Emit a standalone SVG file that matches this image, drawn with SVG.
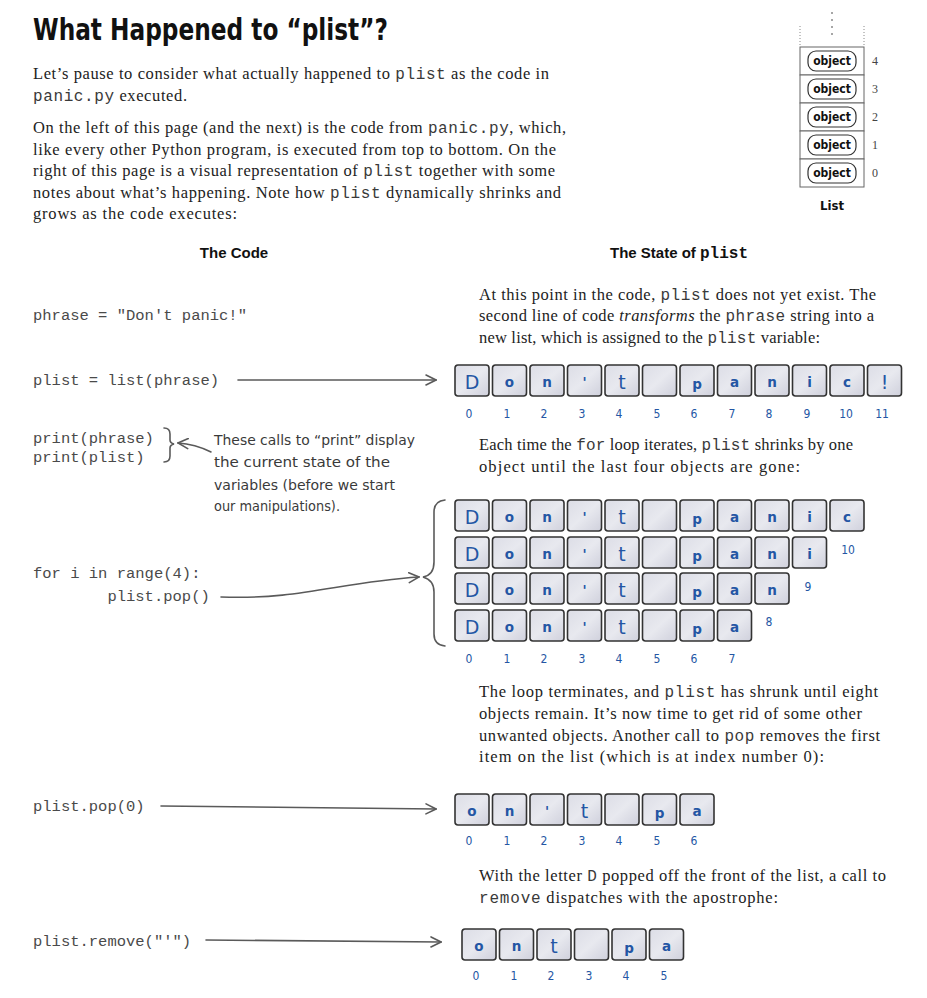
<svg xmlns="http://www.w3.org/2000/svg" xmlns:xlink="http://www.w3.org/1999/xlink" width="927" height="998" viewBox="0 0 927 998">
<style>
  .title{font-family:"DejaVu Sans Condensed","Liberation Sans Narrow",sans-serif;font-weight:bold;font-size:31px;fill:#111}
  .para{font-family:"Liberation Serif",serif;font-size:16.5px;fill:#222}
  .pm{font-family:"Liberation Mono",monospace;font-size:16px;fill:#3a3a3a}
  .code{font-family:"Liberation Mono",monospace;font-size:15.5px;fill:#4a4a4a}
  .head{font-family:"Liberation Sans",sans-serif;font-weight:bold;font-size:15px;fill:#111}
  .headm{font-family:"Liberation Mono",monospace;font-weight:bold;font-size:16px}
  .note{font-family:"DejaVu Sans Condensed","Liberation Sans Narrow",sans-serif;font-size:14.5px;fill:#3a3a3a}
  .let{font-family:"DejaVu Sans","Liberation Sans",sans-serif;font-weight:bold;font-size:13.5px;fill:#2456a4;text-anchor:middle}
  .cap{font-size:19px;font-weight:normal}
  .idx{font-family:"DejaVu Sans Condensed",sans-serif;font-size:12px;fill:#2456a4;text-anchor:middle}
  .cellr{fill:url(#cg);stroke:#333;stroke-width:1.6}
  .arrow{fill:none;stroke:#5a5a5a;stroke-width:1.6;stroke-linecap:round}
  .pill{fill:#fff;stroke:#333;stroke-width:1.2}
  .obj{font-family:"DejaVu Sans Condensed",sans-serif;font-weight:bold;font-size:12px;fill:#111;text-anchor:middle}
  .num{font-family:"Liberation Serif",serif;font-size:12px;fill:#444}
  .box{fill:#fff;stroke:#666;stroke-width:1}
  .dot{stroke:#888;stroke-width:1;stroke-dasharray:1 2;fill:none}
</style>
<defs>
  <linearGradient id="cg" x1="0" y1="0" x2="1" y2="1">
    <stop offset="0" stop-color="#dcdde6"/>
    <stop offset="0.5" stop-color="#e8e9ef"/>
    <stop offset="1" stop-color="#cfd0dc"/>
  </linearGradient>
  <rect id="cell" x="0" y="0" width="34" height="31" rx="3"/>
  <marker id="ah" viewBox="0 0 12 12" refX="11" refY="6" markerWidth="12" markerHeight="12" markerUnits="userSpaceOnUse" orient="auto">
    <path d="M1,1 L11,6 L1,11" fill="none" stroke="#5a5a5a" stroke-width="1.6" stroke-linecap="round"/>
  </marker>
</defs>
<rect width="927" height="998" fill="#fff"/>

<g id="title"><text class="title" x="33" y="40" textLength="355" lengthAdjust="spacingAndGlyphs">What Happened to “plist”?</text></g>

<g id="intro">
  <text class="para" x="33" y="79" textLength="516">Let’s pause to consider what actually happened to <tspan class="pm">plist</tspan> as the code in</text>
  <text class="para" x="33" y="101" textLength="154"><tspan class="pm">panic.py</tspan> executed.</text>
  <text class="para" x="33" y="133" textLength="533">On the left of this page (and the next) is the code from <tspan class="pm">panic.py</tspan>, which,</text>
  <text class="para" x="33" y="155" textLength="523">like every other Python program, is executed from top to bottom. On the</text>
  <text class="para" x="33" y="176" textLength="522">right of this page is a visual representation of <tspan class="pm">plist</tspan> together with some</text>
  <text class="para" x="33" y="198" textLength="528">notes about what’s happening. Note how <tspan class="pm">plist</tspan> dynamically shrinks and</text>
  <text class="para" x="33" y="219" textLength="204">grows as the code executes:</text>
</g>

<g id="list-legend">
  <path class="dot" d="M800,26 V47 M864,26 V47"/>
  <g fill="#888"><circle cx="832" cy="13" r="1"/><circle cx="832" cy="20" r="1"/><circle cx="832" cy="27" r="1"/><circle cx="832" cy="34" r="1"/></g>
  <rect class="box" x="800" y="47" width="64" height="28"/>
  <rect class="box" x="800" y="75" width="64" height="28"/>
  <rect class="box" x="800" y="103" width="64" height="28"/>
  <rect class="box" x="800" y="131" width="64" height="28"/>
  <rect class="box" x="800" y="159" width="64" height="28"/>
  <rect class="pill" x="808" y="51" width="48" height="20" rx="8"/>
  <rect class="pill" x="808" y="79" width="48" height="20" rx="8"/>
  <rect class="pill" x="808" y="107" width="48" height="20" rx="8"/>
  <rect class="pill" x="808" y="135" width="48" height="20" rx="8"/>
  <rect class="pill" x="808" y="163" width="48" height="20" rx="8"/>
  <text class="obj" x="832" y="65">object</text>
  <text class="obj" x="832" y="93">object</text>
  <text class="obj" x="832" y="121">object</text>
  <text class="obj" x="832" y="149">object</text>
  <text class="obj" x="832" y="177">object</text>
  <text class="num" x="872" y="65">4</text>
  <text class="num" x="872" y="93">3</text>
  <text class="num" x="872" y="121">2</text>
  <text class="num" x="872" y="149">1</text>
  <text class="num" x="872" y="177">0</text>
  <text class="obj" x="832" y="210" style="font-size:13px">List</text>
</g>

<g id="headers">
  <text class="head" x="234" y="258" text-anchor="middle">The Code</text>
  <text class="head" x="610" y="258">The State of <tspan class="headm">plist</tspan></text>
</g>

<g id="code">
  <text class="code" x="33" y="320">phrase = "Don't panic!"</text>
  <text class="code" x="33" y="385">plist = list(phrase)</text>
  <text class="code" x="33" y="443">print(phrase)</text>
  <text class="code" x="33" y="462">print(plist)</text>
  <text class="code" x="33" y="578">for i in range(4):</text>
  <text class="code" x="33" y="601" xml:space="preserve">        plist.pop()</text>
  <text class="code" x="33" y="811">plist.pop(0)</text>
  <text class="code" x="33" y="946">plist.remove("'")</text>
</g>

<g id="notes-right">
  <text class="para" x="479" y="300" textLength="397">At this point in the code, <tspan class="pm">plist</tspan> does not yet exist. The</text>
  <text class="para" x="479" y="321" textLength="395">second line of code <tspan font-style="italic">transforms</tspan> the <tspan class="pm">phrase</tspan> string into a</text>
  <text class="para" x="479" y="343" textLength="341">new list, which is assigned to the <tspan class="pm">plist</tspan> variable:</text>
  <text class="para" x="479" y="450" textLength="374">Each time the <tspan class="pm">for</tspan> loop iterates, <tspan class="pm">plist</tspan> shrinks by one</text>
  <text class="para" x="479" y="472" textLength="321">object until the last four objects are gone:</text>
  <text class="para" x="479" y="697" textLength="399">The loop terminates, and <tspan class="pm">plist</tspan> has shrunk until eight</text>
  <text class="para" x="479" y="719" textLength="383">objects remain. It’s now time to get rid of some other</text>
  <text class="para" x="479" y="741" textLength="401">unwanted objects. Another call to <tspan class="pm">pop</tspan> removes the first</text>
  <text class="para" x="479" y="762" textLength="345">item on the list (which is at index number 0):</text>
  <text class="para" x="479" y="881" textLength="407">With the letter <tspan class="pm">D</tspan> popped off the front of the list, a call to</text>
  <text class="para" x="479" y="903" textLength="299"><tspan class="pm">remove</tspan> dispatches with the apostrophe:</text>
</g>

<g id="annotation">
  <path class="arrow" d="M164,428 q6,0 6,6 v6 q0,3 4,4 q-4,1 -4,4 v8 q0,6 -6,6"/>
  <path class="arrow" d="M211,452 Q195,444 178,443" marker-end="url(#ah)"/>
  <text class="note" x="214" y="445" textLength="201" lengthAdjust="spacingAndGlyphs">These calls to “print” display</text>
  <text class="note" x="214" y="467" textLength="176" lengthAdjust="spacingAndGlyphs">the current state of the</text>
  <text class="note" x="214" y="490" textLength="181" lengthAdjust="spacingAndGlyphs">variables (before we start</text>
  <text class="note" x="214" y="511" textLength="126" lengthAdjust="spacingAndGlyphs">our manipulations).</text>
</g>

<g id="connectors">
  <path class="arrow" d="M238,380 L436,380" marker-end="url(#ah)"/>
  <path class="arrow" d="M221,597 C300,600 340,582 419,577" marker-end="url(#ah)"/>
  <path class="arrow" d="M161,806 L436,809" marker-end="url(#ah)"/>
  <path class="arrow" d="M206,940 L441,942" marker-end="url(#ah)"/>
  <path class="arrow" d="M445,500 Q434,501 434,512 V562 Q434,575 423,577 Q434,580 434,592 V634 Q434,645 445,646"/>
</g>

<g id="list-initial">
  <g class="cellr">
    <use href="#cell" x="455" y="365"/><use href="#cell" x="492.5" y="365"/><use href="#cell" x="530" y="365"/><use href="#cell" x="567.5" y="365"/><use href="#cell" x="605" y="365"/><use href="#cell" x="642.5" y="365"/><use href="#cell" x="680" y="365"/><use href="#cell" x="717.5" y="365"/><use href="#cell" x="755" y="365"/><use href="#cell" x="792.5" y="365"/><use href="#cell" x="830" y="365"/><use href="#cell" x="867.5" y="365"/>
  </g>
  <text class="let cap" x="472" y="389">D</text><text class="let" x="509.5" y="387">o</text><text class="let" x="547" y="387">n</text><text class="let" x="584.5" y="387">'</text><text class="let cap" x="622" y="389">t</text><text class="let" x="697" y="389">p</text><text class="let" x="734.5" y="387">a</text><text class="let" x="772" y="387">n</text><text class="let" x="809.5" y="387">i</text><text class="let" x="847" y="387">c</text><text class="let cap" x="884.5" y="389">!</text>
  <g class="idx">
    <text x="469" y="418">0</text><text x="507" y="418">1</text><text x="544" y="418">2</text><text x="582" y="418">3</text><text x="619" y="418">4</text><text x="657" y="418">5</text><text x="694" y="418">6</text><text x="732" y="418">7</text><text x="769" y="418">8</text><text x="807" y="418">9</text><text x="846" y="418">10</text><text x="882" y="418">11</text>
  </g>
</g>

<g id="list-popping">
  <g class="cellr">
    <use href="#cell" x="455" y="500"/><use href="#cell" x="492.5" y="500"/><use href="#cell" x="530" y="500"/><use href="#cell" x="567.5" y="500"/><use href="#cell" x="605" y="500"/><use href="#cell" x="642.5" y="500"/><use href="#cell" x="680" y="500"/><use href="#cell" x="717.5" y="500"/><use href="#cell" x="755" y="500"/><use href="#cell" x="792.5" y="500"/><use href="#cell" x="830" y="500"/>
    <use href="#cell" x="455" y="537"/><use href="#cell" x="492.5" y="537"/><use href="#cell" x="530" y="537"/><use href="#cell" x="567.5" y="537"/><use href="#cell" x="605" y="537"/><use href="#cell" x="642.5" y="537"/><use href="#cell" x="680" y="537"/><use href="#cell" x="717.5" y="537"/><use href="#cell" x="755" y="537"/><use href="#cell" x="792.5" y="537"/>
    <use href="#cell" x="455" y="573"/><use href="#cell" x="492.5" y="573"/><use href="#cell" x="530" y="573"/><use href="#cell" x="567.5" y="573"/><use href="#cell" x="605" y="573"/><use href="#cell" x="642.5" y="573"/><use href="#cell" x="680" y="573"/><use href="#cell" x="717.5" y="573"/><use href="#cell" x="755" y="573"/>
    <use href="#cell" x="455" y="610"/><use href="#cell" x="492.5" y="610"/><use href="#cell" x="530" y="610"/><use href="#cell" x="567.5" y="610"/><use href="#cell" x="605" y="610"/><use href="#cell" x="642.5" y="610"/><use href="#cell" x="680" y="610"/><use href="#cell" x="717.5" y="610"/>
  </g>
  <text class="let cap" x="472" y="524">D</text><text class="let" x="509.5" y="522">o</text><text class="let" x="547" y="522">n</text><text class="let" x="584.5" y="522">'</text><text class="let cap" x="622" y="524">t</text><text class="let" x="697" y="524">p</text><text class="let" x="734.5" y="522">a</text><text class="let" x="772" y="522">n</text><text class="let" x="809.5" y="522">i</text><text class="let" x="847" y="522">c</text>
  <text class="let cap" x="472" y="561">D</text><text class="let" x="509.5" y="559">o</text><text class="let" x="547" y="559">n</text><text class="let" x="584.5" y="559">'</text><text class="let cap" x="622" y="561">t</text><text class="let" x="697" y="561">p</text><text class="let" x="734.5" y="559">a</text><text class="let" x="772" y="559">n</text><text class="let" x="809.5" y="559">i</text>
  <text class="let cap" x="472" y="597">D</text><text class="let" x="509.5" y="595">o</text><text class="let" x="547" y="595">n</text><text class="let" x="584.5" y="595">'</text><text class="let cap" x="622" y="597">t</text><text class="let" x="697" y="597">p</text><text class="let" x="734.5" y="595">a</text><text class="let" x="772" y="595">n</text>
  <text class="let cap" x="472" y="634">D</text><text class="let" x="509.5" y="632">o</text><text class="let" x="547" y="632">n</text><text class="let" x="584.5" y="632">'</text><text class="let cap" x="622" y="634">t</text><text class="let" x="697" y="634">p</text><text class="let" x="734.5" y="632">a</text>
  <g class="idx">
    <text x="848" y="554">10</text><text x="808" y="591">9</text><text x="769" y="626">8</text>
    <text x="469" y="663">0</text><text x="507" y="663">1</text><text x="544" y="663">2</text><text x="582" y="663">3</text><text x="619" y="663">4</text><text x="657" y="663">5</text><text x="694" y="663">6</text><text x="732" y="663">7</text>
  </g>
</g>

<g id="list-pop0">
  <g class="cellr">
    <use href="#cell" x="455" y="794"/><use href="#cell" x="492.5" y="794"/><use href="#cell" x="530" y="794"/><use href="#cell" x="567.5" y="794"/><use href="#cell" x="605" y="794"/><use href="#cell" x="642.5" y="794"/><use href="#cell" x="680" y="794"/>
  </g>
  <text class="let" x="472" y="816">o</text><text class="let" x="509.5" y="816">n</text><text class="let" x="547" y="816">'</text><text class="let cap" x="584.5" y="818">t</text><text class="let" x="659.5" y="818">p</text><text class="let" x="697" y="816">a</text>
  <g class="idx">
    <text x="469" y="845">0</text><text x="507" y="845">1</text><text x="544" y="845">2</text><text x="582" y="845">3</text><text x="619" y="845">4</text><text x="657" y="845">5</text><text x="694" y="845">6</text>
  </g>
</g>

<g id="list-remove">
  <g class="cellr">
    <use href="#cell" x="462" y="929"/><use href="#cell" x="499.5" y="929"/><use href="#cell" x="537" y="929"/><use href="#cell" x="574.5" y="929"/><use href="#cell" x="612" y="929"/><use href="#cell" x="649.5" y="929"/>
  </g>
  <text class="let" x="479" y="951">o</text><text class="let" x="516.5" y="951">n</text><text class="let cap" x="554" y="953">t</text><text class="let" x="629" y="953">p</text><text class="let" x="666.5" y="951">a</text>
  <g class="idx">
    <text x="476" y="980">0</text><text x="514" y="980">1</text><text x="551" y="980">2</text><text x="589" y="980">3</text><text x="626" y="980">4</text><text x="664" y="980">5</text>
  </g>
</g>
</svg>
